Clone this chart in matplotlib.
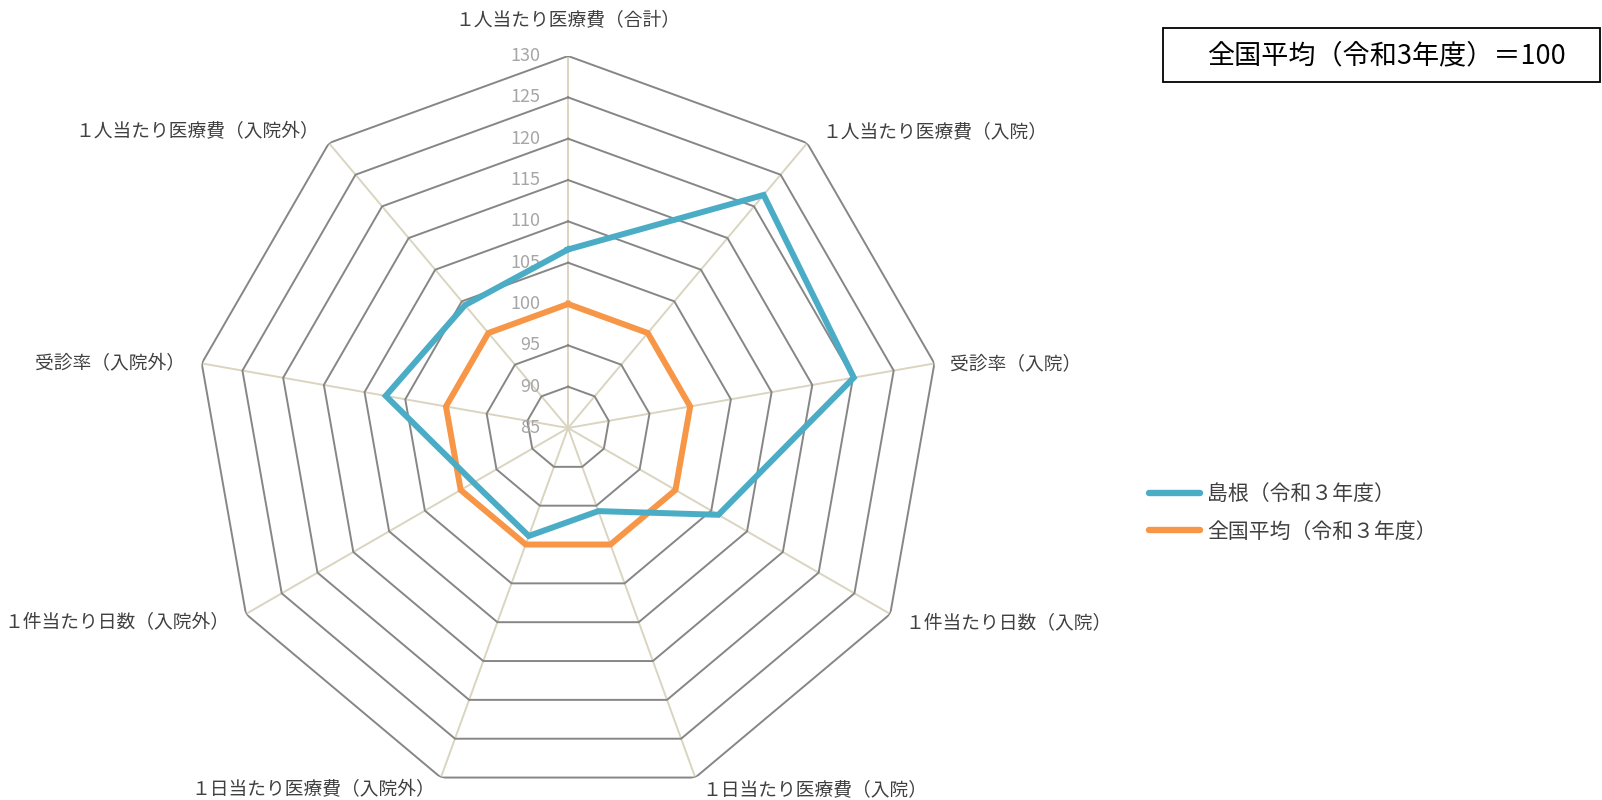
import numpy as np
import matplotlib
matplotlib.use("Agg")
import matplotlib.pyplot as plt
from matplotlib.patches import Rectangle

plt.rcParams['font.family'] = ['Noto Sans CJK JP', 'DejaVu Sans']

# data
categories = ["１人当たり医療費（合計）", "１人当たり医療費（入院）", "受診率（入院）",
              "１件当たり日数（入院）", "１日当たり医療費（入院）", "１日当たり医療費（入院外）",
              "１件当たり日数（入院外）", "受診率（入院外）", "１人当たり医療費（入院外）"]
shimane = [106.6, 121.8, 120.1, 106.0, 95.7, 98.9, 98.2, 107.4, 104.4]
national = [100, 100, 100, 100, 100, 100, 100, 100, 100]
ticks = [85, 90, 95, 100, 105, 110, 115, 120, 125, 130]

n = len(categories)
theta = np.arange(n) * 2 * np.pi / n
theta_c = np.append(theta, theta[0])

fig = plt.figure(figsize=(16.02, 8), dpi=100)
ax = fig.add_axes([0.1224, 0.0, 0.4644, 0.93], projection='polar')
ax.set_theta_zero_location('N')
ax.set_theta_direction(-1)
ax.set_ylim(85, 130)
ax.grid(False)
ax.spines['polar'].set_visible(False)
ax.set_xticks([])
ax.set_yticks([])
ax.patch.set_alpha(0)

# spokes
for t in theta:
    ax.plot([t, t], [85, 130], color='#d9d5c0', lw=1.4, zorder=1)
# polygon rings
for v in ticks[1:]:
    ax.plot(theta_c, [v] * (n + 1), color='#868686', lw=1.4, zorder=2)

ax.plot(theta_c, np.append(shimane, shimane[0]), color='#4bacc6', lw=4.3,
        label='島根（令和３年度）', zorder=4, solid_joinstyle='miter')
ax.plot(theta_c, np.append(national, national[0]), color='#f79646', lw=4.3,
        label='全国平均（令和３年度）', zorder=3, solid_joinstyle='miter')

# tick labels on first spoke
for v in ticks:
    ax.annotate(str(v), xy=(0, v), xytext=(-20, 0), textcoords='offset points',
                ha='right', va='center', fontsize=13, color='#a6a6a6')

# category labels
offsets = [(0, 26, 'center'), (11, 8, 'left'), (11, 0, 'left'), (11, -6, 'left'),
           (5, -9, 'left'), (-4, -9, 'right'), (-12, -6, 'right'),
           (-12, 0, 'right'), (-7, 8, 'right')]
for t, lab, (dx, dy, ha) in zip(theta, categories, offsets):
    ax.annotate(lab, xy=(t, 130), xytext=(dx, dy), textcoords='offset points',
                ha=ha, va='center', fontsize=13.5, color='#404040')

# title box
fig.patches.append(Rectangle((1163 / 1602, 1 - 82 / 800), 437 / 1602, 54 / 800,
                             transform=fig.transFigure, fill=False,
                             edgecolor='black', lw=1.3))
fig.text(1386 / 1602, 1 - 56 / 800, '全国平均（令和3年度）＝100', ha='center', va='center',
         fontsize=19.5, color='black')

leg = fig.legend(loc='upper left', bbox_to_anchor=(1149 / 1602, 1 - 483 / 800),
                 frameon=False, fontsize=15, handlelength=2.45, handletextpad=0.35,
                 labelspacing=0.75, borderpad=0, borderaxespad=0)
for txt in leg.get_texts():
    txt.set_color('#404040')
for line in leg.get_lines():
    line.set_solid_capstyle('round')
    line.set_linewidth(4.6)

plt.savefig("out.png", dpi=100)
